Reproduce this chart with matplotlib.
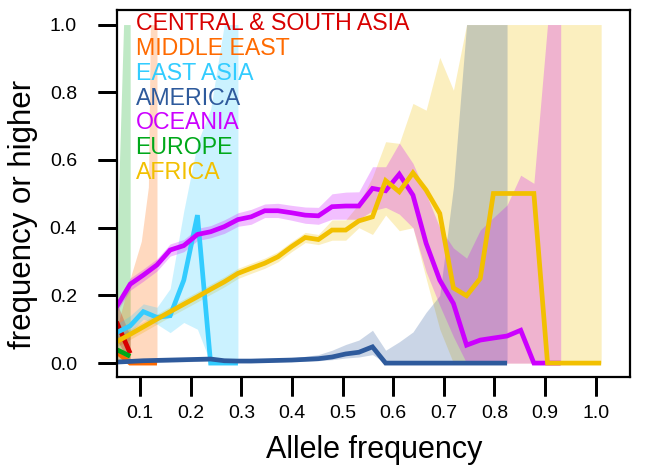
import matplotlib
matplotlib.use("Agg")
import matplotlib.pyplot as plt

plt.rcParams['font.family'] = ['Liberation Sans', 'DejaVu Sans']

# common allele-frequency grid (bin positions)
X = [0.053, 0.080, 0.106, 0.133, 0.159, 0.186, 0.213, 0.239, 0.266, 0.293,
     0.319, 0.346, 0.372, 0.399, 0.426, 0.452, 0.479, 0.506, 0.532, 0.559,
     0.585, 0.612, 0.639, 0.665, 0.692, 0.719, 0.745, 0.772, 0.798, 0.825,
     0.852, 0.878, 0.905, 0.931, 0.958, 0.985, 1.011]

populations = ["CENTRAL & SOUTH ASIA", "MIDDLE EAST", "EAST ASIA", "AMERICA",
               "OCEANIA", "EUROPE", "AFRICA"]
colors = ["#D80000", "#FF6A00", "#33CCFF", "#2E5A9C", "#CC00FF", "#00A81A", "#F2C000"]

# CENTRAL & SOUTH ASIA
csa_x = [0.053, 0.080]
csa_y = [0.122, 0.029]
csa_lo = [0.07, 0.0]
csa_hi = [0.18, 0.08]

# MIDDLE EAST
me_x = [0.053, 0.080, 0.102, 0.116, 0.120, 0.133]
me_y = [0.033, 0.0, 0.0, 0.0, 0.0, 0.0]
me_lo = [0.0, 0.0, 0.0, 0.0, 0.0, 0.0]
me_hi = [0.10, 0.25, 0.36, 0.52, 1.0, 1.0]

# EAST ASIA
ea_y = [0.09, 0.11, 0.152, 0.135, 0.14, 0.245, 0.437, 0.0, 0.0, 0.0]
ea_lo = [0.065, 0.09, 0.13, 0.115, 0.09, 0.12, 0.10, 0.0, 0.0, 0.0]
ea_hi = [0.115, 0.14, 0.175, 0.165, 0.22, 0.45, 0.65, 0.75, 1.0, 1.0]

# AMERICA
am_y = [0.003, 0.005, 0.007, 0.008, 0.009, 0.010, 0.011, 0.012, 0.007, 0.006,
        0.006, 0.007, 0.008, 0.009, 0.011, 0.013, 0.018, 0.027, 0.032, 0.048,
        0.0, 0.0, 0.0, 0.0, 0.0, 0.0, 0.0, 0.0, 0.0, 0.0]
am_lo = [0.0, 0.0, 0.0, 0.002, 0.003, 0.004, 0.005, 0.006, 0.003, 0.002,
         0.002, 0.003, 0.004, 0.005, 0.006, 0.007, 0.010, 0.015, 0.018, 0.025,
         0.0, 0.0, 0.0, 0.0, 0.0, 0.0, 0.0, 0.0, 0.0, 0.0]
am_hi = [0.010, 0.012, 0.013, 0.014, 0.015, 0.016, 0.017, 0.018, 0.012, 0.011,
         0.011, 0.012, 0.013, 0.015, 0.020, 0.025, 0.038, 0.055, 0.068, 0.097,
         0.038, 0.063, 0.092, 0.15, 0.20, 0.52, 1.0, 1.0, 1.0, 1.0]

# OCEANIA
oc_y = [0.166, 0.233, 0.26, 0.29, 0.334, 0.347, 0.38, 0.388, 0.403, 0.424,
        0.432, 0.45, 0.45, 0.444, 0.437, 0.435, 0.462, 0.464, 0.464, 0.516,
        0.509, 0.558, 0.496, 0.354, 0.245, 0.176, 0.053, 0.068, 0.074, 0.08,
        0.097, 0.0, 0.0, 0.0]
oc_lo = [0.15, 0.215, 0.242, 0.272, 0.316, 0.329, 0.362, 0.37, 0.383, 0.404,
         0.41, 0.43, 0.43, 0.422, 0.413, 0.41, 0.425, 0.425, 0.425, 0.45,
         0.46, 0.44, 0.40, 0.27, 0.17, 0.078, 0.0, 0.0, 0.0, 0.0,
         0.0, 0.0, 0.0, 0.0]
oc_hi = [0.182, 0.251, 0.278, 0.308, 0.352, 0.365, 0.398, 0.406, 0.423, 0.444,
         0.454, 0.47, 0.472, 0.466, 0.461, 0.46, 0.50, 0.505, 0.506, 0.58,
         0.58, 0.65, 0.59, 0.50, 0.40, 0.34, 0.31, 0.393, 0.43, 0.467,
         0.555, 0.531, 1.0, 1.0]

# EUROPE
eu_x = [0.053, 0.067, 0.080]
eu_y = [0.04, 0.03, 0.02]
eu_lo = [0.0, 0.0, 0.0]
eu_hi = [0.3, 1.0, 1.0]

# AFRICA
af_y = [0.063, 0.085, 0.107, 0.13, 0.152, 0.174, 0.196, 0.218, 0.24, 0.265,
        0.28, 0.295, 0.314, 0.344, 0.371, 0.365, 0.393, 0.393, 0.42, 0.432,
        0.539, 0.506, 0.562, 0.511, 0.442, 0.222, 0.199, 0.25, 0.501, 0.501,
        0.501, 0.501, 0.0, 0.0, 0.0, 0.0, 0.0]
af_lo = [0.048, 0.07, 0.092, 0.115, 0.137, 0.159, 0.181, 0.203, 0.225, 0.25,
         0.265, 0.28, 0.299, 0.329, 0.356, 0.35, 0.363, 0.363, 0.40, 0.38,
         0.437, 0.391, 0.40, 0.25, 0.10, 0.0, 0.0, 0.0, 0.0, 0.0,
         0.0, 0.0, 0.0, 0.0, 0.0, 0.0, 0.0]
af_hi = [0.078, 0.10, 0.122, 0.145, 0.167, 0.189, 0.211, 0.233, 0.255, 0.28,
         0.295, 0.31, 0.329, 0.359, 0.386, 0.38, 0.423, 0.423, 0.47, 0.55,
         0.654, 0.649, 0.767, 0.747, 0.903, 0.806, 1.0, 1.0, 1.0, 1.0,
         1.0, 1.0, 1.0, 1.0, 1.0, 1.0, 1.0]

series = [
    (csa_x, csa_y, csa_lo, csa_hi),
    (me_x, me_y, me_lo, me_hi),
    (X[:len(ea_y)], ea_y, ea_lo, ea_hi),
    (X[:len(am_y)], am_y, am_lo, am_hi),
    (X[:len(oc_y)], oc_y, oc_lo, oc_hi),
    (eu_x, eu_y, eu_lo, eu_hi),
    (X[:len(af_y)], af_y, af_lo, af_hi),
]

fig = plt.figure(figsize=(6.48, 4.69), dpi=100)
ax = fig.add_axes([0.1798, 0.1962, 0.7924, 0.7825])

# confidence bands (Africa first, Oceania last)
band_order = [6, 5, 1, 0, 2, 3, 4]
for i in band_order:
    xs, ys, lo, hi = series[i]
    ax.fill_between(xs, lo, hi, color=colors[i], alpha=0.25, linewidth=0)

for (xs, ys, lo, hi), c in zip(series, colors):
    ax.plot(xs, ys, color=c, linewidth=3.4, solid_capstyle='butt',
            solid_joinstyle='miter')

ax.set_xlim(0.053, 1.068)
ax.set_ylim(-0.041, 1.043)

xt = [0.1, 0.2, 0.3, 0.4, 0.5, 0.6, 0.7, 0.8, 0.9, 1.0]
yt = [0.0, 0.2, 0.4, 0.6, 0.8, 1.0]
ax.set_xticks(xt)
ax.set_xticklabels(["%.1f" % v for v in xt])
ax.set_yticks(yt)
ax.set_yticklabels(["%.1f" % v for v in yt])
ax.tick_params(axis='both', direction='out', length=13.5, width=2.0, labelsize=14,
               color='black', labelcolor='black')
ax.tick_params(axis='x', pad=7)
ax.tick_params(axis='y', pad=15)
for s in ax.spines.values():
    s.set_linewidth(1.6)

# reinforce tick marks (R-style outward ticks)
for v in yt:
    ax.plot([-0.037, 0.0], [v, v], color='black', lw=2.0, zorder=5,
            transform=ax.get_yaxis_transform(), clip_on=False, solid_capstyle='butt')
for v in xt:
    ax.plot([v, v], [-0.0516, 0.0], color='black', lw=2.0, zorder=5,
            transform=ax.get_xaxis_transform(), clip_on=False, solid_capstyle='butt')

fig.text(0.577, 0.04, "Allele frequency", fontsize=22, ha='center', va='center')
fig.text(0.036, 0.542, "frequency or higher", fontsize=22.5, rotation=90,
         ha='center', va='center')

ys_leg = [0.962, 0.895, 0.827, 0.76, 0.693, 0.625, 0.558]
for name, c, yl in zip(populations, colors, ys_leg):
    ax.text(0.037, yl, name, color=c, fontsize=16.7, transform=ax.transAxes,
            ha='left', va='center')

fig.savefig("out.png", dpi=100)
